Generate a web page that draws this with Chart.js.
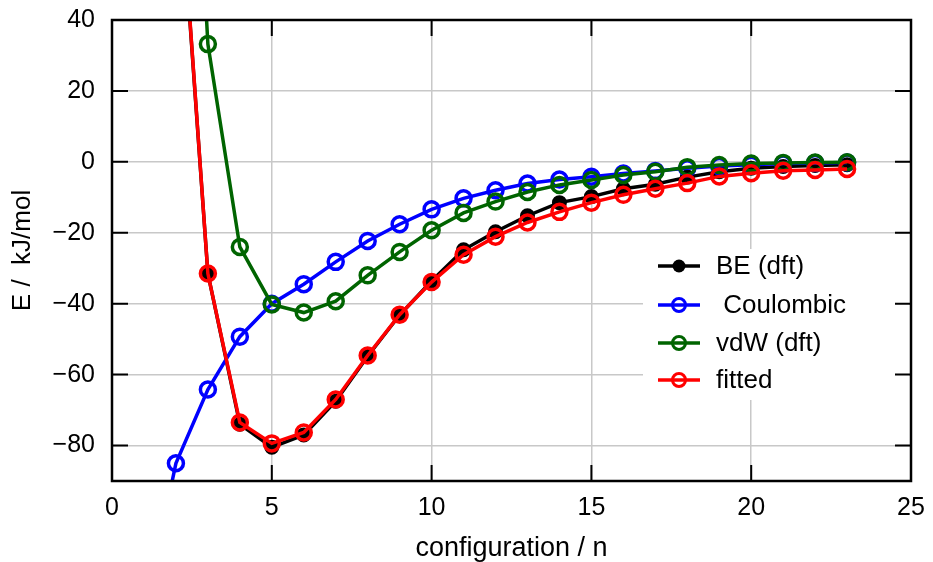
<!DOCTYPE html>
<html>
<head>
<meta charset="utf-8">
<script src="https://cdn.jsdelivr.net/npm/chart.js@4.4.1/dist/chart.umd.min.js"></script>
<style>
    body { margin: 0; background: #fff; }
</style>
</head>
<body>
<canvas id="chart1" width="933" height="562"></canvas>
<script>
// configuration number n
const configs = [1, 2, 3, 4, 5, 6, 7, 8, 9, 10, 11, 12, 13, 14, 15, 16, 17, 18, 19, 20, 21, 22, 23];

// energies in kJ/mol (null = no point)
const beDft = [null, 95, -31.5, -74, -80.5, -77, -67.5, -54.8, -43.2, -33.6, -24.8, -19.7, -15.2, -11.5, -9.8, -7.6, -6.3, -4.3, -2.8, -1.8, -1.3, -1.0, -0.8];
const coulombic = [-128, -85, -64.2, -49.3, -40, -34.5, -28.2, -22.3, -17.6, -13.4, -10.3, -8.0, -6.1, -5.0, -4.2, -3.3, -2.6, -1.8, -1.2, -0.8, -0.5, -0.3, -0.2];
const vdwDft = [null, 200, 33.2, -24, -40.2, -42.5, -39.3, -32, -25.4, -19.3, -14.4, -11.2, -8.5, -6.5, -5.1, -3.7, -2.8, -1.5, -0.9, -0.5, -0.3, -0.2, -0.1];
const fitted = [null, 96, -31.5, -73.5, -79.4, -76.3, -67, -54.6, -43.1, -33.9, -26.2, -21.1, -17.1, -14.1, -11.5, -9.3, -7.6, -6.0, -4.1, -3.2, -2.5, -2.3, -2.0];

const seriesNames = ['BE (dft)', ' Coulombic', 'vdW (dft)', 'fitted'];
const seriesColors = ['#000000', '#0000ff', '#006400', '#ff0000'];

const xTicks = [0, 5, 10, 15, 20, 25];
const yTicks = [-80, -60, -40, -20, 0, 20, 40];

const FONT = "'Liberation Sans', Arial, sans-serif";
Chart.defaults.font.family = FONT;
Chart.defaults.color = '#000';

function toPoints(values) {
    return configs.map((n, i) => ({ x: n, y: values[i] }));
}

function makeDataset(idx, values, filled, order) {
    const c = seriesColors[idx];
    return {
        label: seriesNames[idx],
        data: toPoints(values),
        borderColor: c,
        backgroundColor: c,
        borderWidth: 3.5,
        tension: 0,
        pointStyle: 'circle',
        pointRadius: filled ? 6.5 : 7.5,
        pointBorderWidth: filled ? 2 : 3.5,
        pointBorderColor: c,
        pointBackgroundColor: filled ? c : 'rgba(0,0,0,0)',
        clip: 0,
        order: order
    };
}

// white box behind the legend, inward ticks, frame and legend itself
const frameAndLegend = {
    id: 'frameAndLegend',
    beforeDatasetsDraw(chart) {
        const ctx = chart.ctx;
        ctx.save();
        ctx.fillStyle = '#fff';
        ctx.fillRect(643, 249, 266, 151);
        ctx.restore();
    },
    afterDatasetsDraw(chart) {
        const { ctx, chartArea: a, scales: { x, y } } = chart;
        ctx.save();
        ctx.strokeStyle = '#000';
        ctx.lineWidth = 2;
        ctx.beginPath();
        xTicks.forEach(v => {
            const px = x.getPixelForValue(v);
            ctx.moveTo(px, a.bottom); ctx.lineTo(px, a.bottom - 16);
            ctx.moveTo(px, a.top); ctx.lineTo(px, a.top + 16);
        });
        yTicks.forEach(v => {
            const py = y.getPixelForValue(v);
            ctx.moveTo(a.left, py); ctx.lineTo(a.left + 16, py);
            ctx.moveTo(a.right, py); ctx.lineTo(a.right - 16, py);
        });
        ctx.stroke();
        ctx.lineWidth = 2.5;
        ctx.strokeRect(a.left, a.top, a.right - a.left, a.bottom - a.top);

        // legend
        const rows = [266, 305, 343, 380];
        ctx.font = '26px ' + FONT;
        ctx.textBaseline = 'middle';
        ctx.textAlign = 'left';
        seriesNames.forEach((name, i) => {
            const c = seriesColors[i];
            const ry = rows[i];
            ctx.strokeStyle = c;
            ctx.lineWidth = 3.5;
            ctx.beginPath();
            ctx.moveTo(658, ry); ctx.lineTo(700, ry);
            ctx.stroke();
            ctx.beginPath();
            ctx.arc(679, ry, 6.5, 0, Math.PI * 2);
            if (i === 0) {
                ctx.fillStyle = c;
                ctx.fill();
            } else {
                ctx.lineWidth = 3;
                ctx.stroke();
            }
            ctx.fillStyle = '#000';
            ctx.fillText(name, 716, ry + 1);
        });
        ctx.restore();
    }
};

const ctx = document.getElementById('chart1').getContext('2d');
new Chart(ctx, {
    type: 'line',
    data: {
        datasets: [
            makeDataset(0, beDft, true, 3),
            makeDataset(1, coulombic, false, 2),
            makeDataset(2, vdwDft, false, 1),
            makeDataset(3, fitted, false, 0)
        ]
    },
    options: {
        responsive: false,
        animation: false,
        layout: { padding: { top: 20, right: 22, left: 0, bottom: 0 } },
        plugins: {
            legend: { display: false },
            tooltip: { enabled: false }
        },
        scales: {
            x: {
                type: 'linear',
                min: 0,
                max: 25,
                afterBuildTicks: s => { s.ticks = xTicks.map(v => ({ value: v })); },
                afterFit: s => { s.height = 81; },
                // invisible tick marks only push the labels away from the axis
                grid: { color: '#c8c8c8', lineWidth: 1.5, drawTicks: true, tickLength: 12, tickColor: 'rgba(0,0,0,0)' },
                border: { display: false },
                ticks: { padding: 0, autoSkip: false, maxRotation: 0, font: { size: 25 }, color: '#000' },
                title: {
                    display: true,
                    text: 'configuration / n',
                    font: { size: 27, lineHeight: 1 },
                    color: '#000',
                    padding: { top: 0, bottom: 0 }
                }
            },
            y: {
                type: 'linear',
                min: -90,
                max: 40,
                afterBuildTicks: s => { s.ticks = yTicks.map(v => ({ value: v })); },
                afterFit: s => { s.width = 112; },
                grid: { color: '#c8c8c8', lineWidth: 1.5, drawTicks: true, tickLength: 17, tickColor: 'rgba(0,0,0,0)' },
                border: { display: false },
                ticks: {
                    padding: 0,
                    font: { size: 25 },
                    color: '#000',
                    callback: v => v < 0 ? '\u2212' + Math.abs(v) : String(v)
                },
                title: {
                    display: true,
                    text: 'E /  kJ/mol',
                    font: { size: 26, lineHeight: 1 },
                    color: '#000',
                    padding: { top: 10, bottom: 0 }
                }
            }
        }
    },
    plugins: [frameAndLegend]
});
</script>
</body>
</html>
